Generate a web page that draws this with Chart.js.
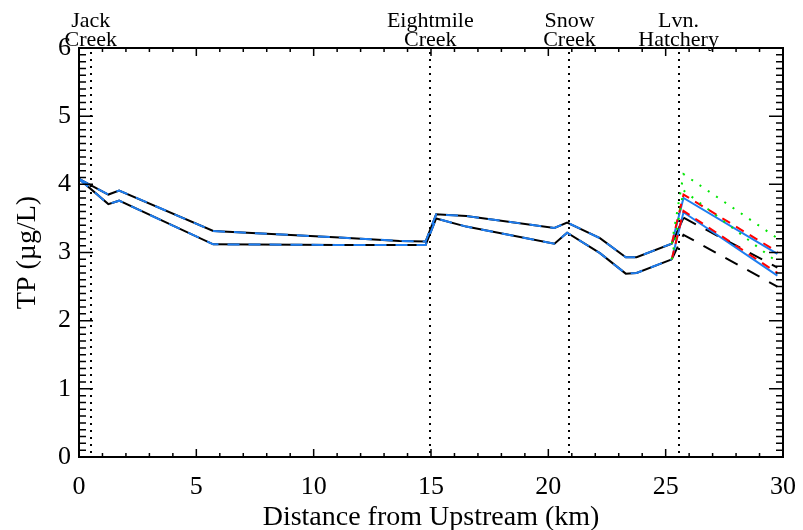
<!DOCTYPE html>
<html>
<head>
<meta charset="utf-8">
<script src="https://cdn.jsdelivr.net/npm/chart.js@4/dist/chart.umd.min.js"></script>
<style>
  html, body { margin: 0; padding: 0; background: #fff; }
</style>
</head>
<body>
<canvas id="tpChart" width="803" height="530"></canvas>
<script>
// River distance (km) of the main profile points
const distKm    = [0, 1.25, 1.71, 5.72, 11.1, 13.66, 14.77, 15.22, 16.5, 20.26, 20.8, 22.2, 23.3, 23.76, 25.26];
const upperTP   = [4.08, 3.85, 3.91, 3.315, 3.22, 3.17, 3.16, 3.56, 3.535, 3.36, 3.44, 3.21, 2.93, 2.93, 3.13];
const lowerTP   = [4.08, 3.71, 3.76, 3.12, 3.11, 3.11, 3.11, 3.50, 3.38, 3.13, 3.29, 2.99, 2.69, 2.70, 2.90];

// Scenarios below the hatchery
const hatchKm        = [25.26, 25.76, 29.76];
const blueUpperTail  = [3.13, 3.80, 2.98];
const blueLowerTail  = [2.90, 3.59, 2.66];
const redUpperTail   = [3.13, 3.85, 3.01];
const redLowerTail   = [2.90, 3.61, 2.70];
const greenUpperTail = [3.13, 4.15, 3.21];
const greenLowerTail = [2.90, 3.91, 2.86];
const blackUpperTail = [3.13, 3.51, 2.78];
const blackLowerTail = [2.90, 3.26, 2.50];

// Tributaries / sites marked with dotted lines
const siteKm     = [0.5, 14.97, 20.9, 25.55];
const siteLabels = [['Jack', 'Creek'], ['Eightmile', 'Creek'], ['Snow', 'Creek'], ['Lvn.', 'Hatchery']];

const xTicks = [0, 5, 10, 15, 20, 25, 30];
const yTicks = [0, 1, 2, 3, 4, 5, 6];

const FONT = "'Liberation Serif', 'Times New Roman', serif";
const BLUE = 'rgb(30, 125, 240)';

function pts(xs, ys) {
  return xs.map((x, i) => ({ x: x, y: ys[i] }));
}

function line(data, color, width, dash, extra) {
  return Object.assign({
    data: data,
    borderColor: color,
    borderWidth: width,
    borderDash: dash || [],
    pointRadius: 0,
    fill: false,
    tension: 0
  }, extra || {});
}

const upperFull = pts(distKm.concat(hatchKm.slice(1)), upperTP.concat(blackUpperTail.slice(1)));
const lowerFull = pts(distKm.concat(hatchKm.slice(1)), lowerTP.concat(blackLowerTail.slice(1)));

// Site lines, labels, frame and inward ticks
const framePlugin = {
  id: 'frame',
  beforeDatasetsDraw(chart) {
    const { ctx, chartArea: a, scales: { x } } = chart;
    ctx.save();
    ctx.strokeStyle = '#000';
    ctx.lineWidth = 2;
    ctx.setLineDash([2, 5]);
    siteKm.forEach(km => {
      const px = Math.round(x.getPixelForValue(km));
      ctx.beginPath();
      ctx.moveTo(px, a.top + 4);
      ctx.lineTo(px, a.bottom);
      ctx.stroke();
    });
    ctx.restore();
  },
  afterDraw(chart) {
    const { ctx, chartArea: a, scales: { x, y } } = chart;
    ctx.save();
    ctx.strokeStyle = '#000';
    ctx.lineWidth = 2;
    ctx.strokeRect(a.left, a.top, a.right - a.left, a.bottom - a.top);

    ctx.lineWidth = 1.5;
    ctx.beginPath();
    for (let k = 0; k <= 30; k++) {
      const px = x.getPixelForValue(k);
      const len = k % 5 === 0 ? 8 : 4;
      ctx.moveTo(px, a.bottom); ctx.lineTo(px, a.bottom - len);
      ctx.moveTo(px, a.top); ctx.lineTo(px, a.top + len);
    }
    for (let k = 0; k <= 60; k++) {
      const py = y.getPixelForValue(k / 10);
      const len = k % 10 === 0 ? 14 : 7;
      ctx.moveTo(a.left, py); ctx.lineTo(a.left + len, py);
      ctx.moveTo(a.right, py); ctx.lineTo(a.right - len, py);
    }
    ctx.stroke();

    ctx.fillStyle = '#000';
    ctx.font = '22px ' + FONT;
    ctx.textAlign = 'center';
    ctx.textBaseline = 'alphabetic';
    siteKm.forEach((km, i) => {
      const px = x.getPixelForValue(km);
      ctx.fillText(siteLabels[i][0], px, 27);
      ctx.fillText(siteLabels[i][1], px, 46);
    });
    ctx.restore();
  }
};

new Chart(document.getElementById('tpChart'), {
  type: 'line',
  data: {
    datasets: [
      line(pts(hatchKm, greenUpperTail), 'rgb(0, 230, 0)', 2, [2, 8]),
      line(pts(hatchKm, greenLowerTail), 'rgb(0, 230, 0)', 2, [2, 8]),
      line(pts(hatchKm, redUpperTail), 'rgb(255, 0, 0)', 2, [9, 7]),
      line(pts(hatchKm, redLowerTail), 'rgb(255, 0, 0)', 2, [9, 7]),
      line(pts(distKm.concat(hatchKm.slice(1)), upperTP.concat(blueUpperTail.slice(1))), BLUE, 2, [], {
        segment: { borderDash: c => c.p0.parsed.x < 25.2 ? [12, 9] : undefined }
      }),
      line(pts(distKm.concat(hatchKm.slice(1)), lowerTP.concat(blueLowerTail.slice(1))), BLUE, 2, [], {
        segment: { borderDash: c => c.p0.parsed.x < 25.2 ? [12, 9] : undefined }
      }),
      line(upperFull, '#000', 2, [], {
        segment: { borderDash: c => c.p0.parsed.x >= 25.5 ? [14, 11] : undefined }
      }),
      line(lowerFull, '#000', 2, [], {
        segment: { borderDash: c => c.p0.parsed.x >= 25.2 ? [14, 11] : undefined }
      })
    ]
  },
  options: {
    responsive: false,
    animation: false,
    layout: { padding: { top: 48, right: 13, left: 0, bottom: 0 } },
    plugins: { legend: { display: false }, tooltip: { enabled: false } },
    scales: {
      x: {
        type: 'linear',
        min: 0,
        max: 30,
        grid: { display: false },
        border: { display: false },
        afterBuildTicks: s => { s.ticks = xTicks.map(v => ({ value: v })); },
        afterFit: s => { s.height = 73; },
        ticks: { color: '#000', font: { family: FONT, size: 26 }, padding: 7, maxRotation: 0 },
        title: {
          display: true,
          text: 'Distance from Upstream (km)',
          color: '#000',
          font: { family: FONT, size: 28, lineHeight: 1 },
          padding: { top: 0, bottom: -2 }
        }
      },
      y: {
        min: 0,
        max: 6,
        grid: { display: false },
        border: { display: false },
        afterBuildTicks: s => { s.ticks = yTicks.map(v => ({ value: v })); },
        afterFit: s => { s.width = 79; },
        ticks: { color: '#000', font: { family: FONT, size: 26 }, padding: 0 },
        title: {
          display: true,
          text: 'TP (µg/L)',
          color: '#000',
          font: { family: FONT, size: 28, lineHeight: 1 },
          padding: { top: 14 }
        }
      }
    }
  },
  plugins: [framePlugin]
});
</script>
</body>
</html>
